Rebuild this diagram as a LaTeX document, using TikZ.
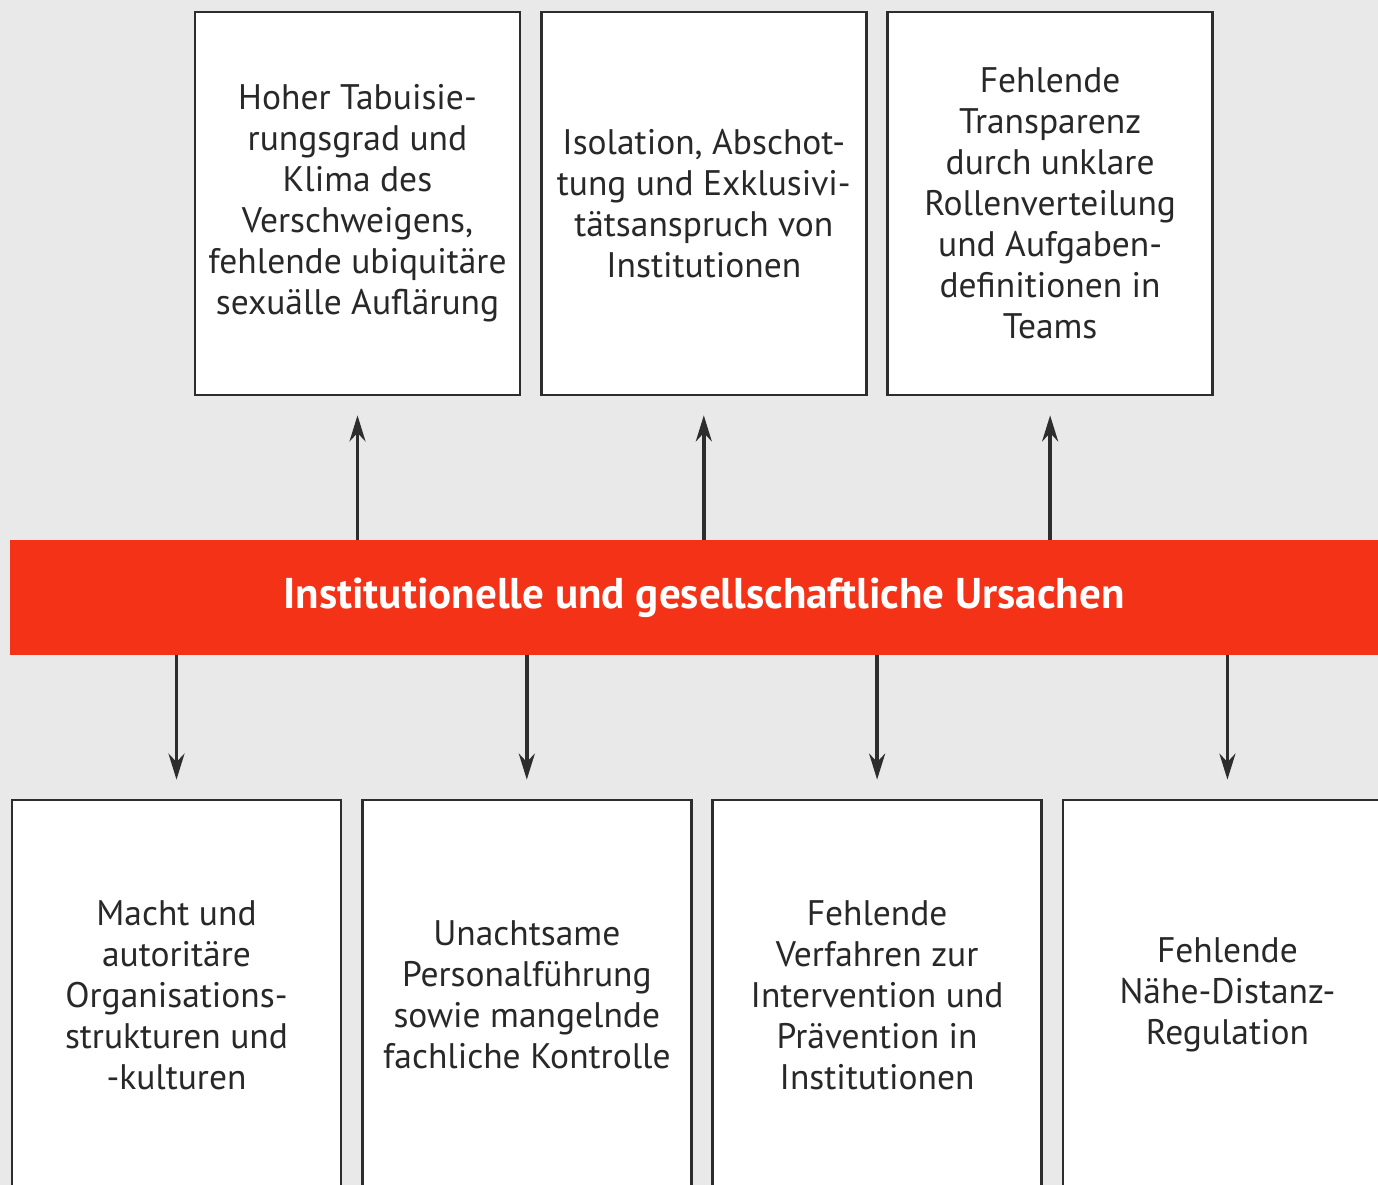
\documentclass[tikz,border=0pt]{standalone}
\usepackage{fontspec}
\setmainfont{PT Sans}
\usepackage{tikz}
\usetikzlibrary{arrows.meta,positioning,calc}
\definecolor{bandred}{RGB}{244,50,24}
\definecolor{paper}{RGB}{233,233,233}
\definecolor{framegray}{RGB}{45,45,45}
\definecolor{textgray}{RGB}{40,40,40}

\begin{document}
\begin{tikzpicture}[
    node distance=0.37cm,
    cause/.style={rectangle, draw=framegray, line width=1.6pt, fill=white, minimum width=6.5cm, minimum height=7.66cm, align=center, text=textgray, font=\fontsize{20.2}{23.3}\selectfont},
    lowcause/.style={cause, minimum width=6.58cm, minimum height=7.8cm},
    band/.style={rectangle, fill=bandred, minimum width=27.76cm, minimum height=2.3cm, text=white, font=\bfseries\fontsize{24.5}{28}\selectfont},
    arrow/.style={line width=2pt, -{Stealth[length=0.52cm, width=0.32cm]}, draw=framegray, shorten >=0.38cm}
]
\useasboundingbox (0,0) rectangle (27.56,-23.70);
\clip (0,0) rectangle (27.56,-23.70);
\fill[paper] (0,0) rectangle (27.56,-23.70);

\node[band] (ursachen) at (14.08,-11.95) {Institutionelle und gesellschaftliche Ursachen};

\node[cause] (tabu) at (7.15,-4.07) {Hoher Tabuisie-\\rungsgrad und\\Klima des\\Verschweigens,\\fehlende ubiquitäre\\sexuälle Auflärung};
\node[cause, right=of tabu] (isolation) {Isolation, Abschot-\\tung und Exklusivi-\\tätsanspruch von\\Institutionen};
\node[cause, right=of isolation] (transparenz) {Fehlende\\Transparenz\\durch unklare\\Rollenverteilung\\und Aufgaben-\\definitionen in\\Teams};

\node[lowcause] (macht) at (3.53,-19.9) {Macht und\\autoritäre\\Organisations-\\strukturen und\\-kulturen};
\node[lowcause, right=of macht] (fuehrung) {Unachtsame\\Personalführung\\sowie mangelnde\\fachliche Kontrolle};
\node[lowcause, right=of fuehrung] (verfahren) {Fehlende\\Verfahren zur\\Intervention und\\Prävention in\\Institutionen};
\node[lowcause, right=of verfahren] (naehe) {Fehlende\\Nähe-Distanz-\\Regulation};

\draw[arrow] (ursachen.north -| tabu) -- (tabu);
\draw[arrow] (ursachen.north -| isolation) -- (isolation);
\draw[arrow] (ursachen.north -| transparenz) -- (transparenz);
\draw[arrow] (ursachen.south -| macht) -- (macht);
\draw[arrow] (ursachen.south -| fuehrung) -- (fuehrung);
\draw[arrow] (ursachen.south -| verfahren) -- (verfahren);
\draw[arrow] (ursachen.south -| naehe) -- (naehe);

\end{tikzpicture}
\end{document}
